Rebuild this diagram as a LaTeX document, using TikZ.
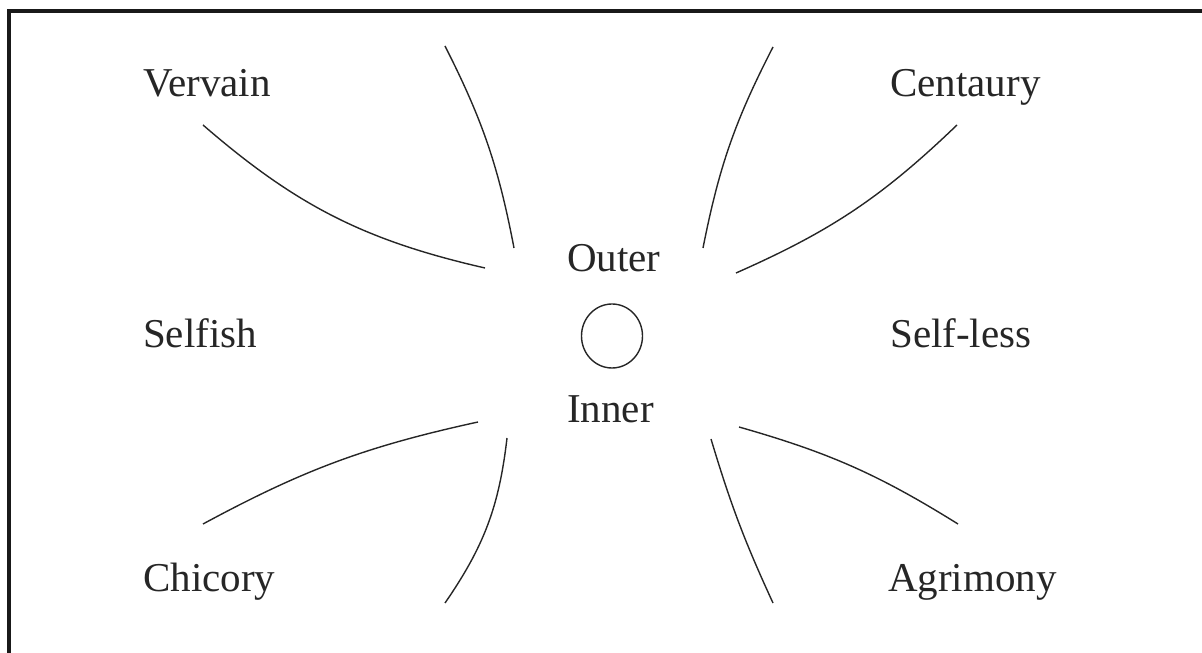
\documentclass[tikz,border=0pt]{standalone}
\usepackage{fontspec}
\setmainfont{Liberation Serif}
\usetikzlibrary{shapes.geometric}
\begin{document}
\begin{tikzpicture}[x=1pt,y=1pt,
  lbl/.style={anchor=base west,inner sep=0pt,font=\fontsize{41}{45}\selectfont,text=black!85},
  arcline/.style={line width=1.4pt,black!85},
  frameline/.style={line width=4pt,black!90,line join=miter}]
\useasboundingbox (0,0) rectangle (1202,653);
% frame (top and left only)
\coordinate (fbl) at (9,0);
\coordinate (ftl) at (9,642);
\coordinate (ftr) at (1202,642);
\draw[frameline] (fbl) -- (ftl) -- (ftr);
% labels
\node[lbl] (vervain) at (143,556) {Vervain};
\node[lbl] (centaury) at (890,556) {Centaury};
\node[lbl] (selfish) at (143,305) {Selfish};
\node[lbl] (selfless) at (890,305) {Self-less};
\node[lbl] (chicory) at (143,61) {Chicory};
\node[lbl] (agrimony) at (888,61) {Agrimony};
\node[lbl] (outer) at (567,381) {Outer};
\node[lbl] (inner) at (567,230) {Inner};
\node[draw,ellipse,minimum width=61pt,minimum height=64pt,inner sep=0pt,arcline] (core) at (612,317) {};
% curve end points
\coordinate (a1) at (445,607); \coordinate (b1) at (514,405);
\coordinate (a2) at (203,528); \coordinate (b2) at (485,385);
\coordinate (a3) at (773,606); \coordinate (b3) at (703,405);
\coordinate (a4) at (957,528); \coordinate (b4) at (736,380);
\coordinate (a5) at (203,129); \coordinate (b5) at (478,231);
\coordinate (a6) at (507,215); \coordinate (b6) at (445,50);
\coordinate (a7) at (711,214); \coordinate (b7) at (773,50);
\coordinate (a8) at (739,226); \coordinate (b8) at (958,129);
\draw[arcline] (a1) to[bend left=8] (b1);
\draw[arcline] (a2) to[bend right=14] (b2);
\draw[arcline] (a3) to[bend right=8] (b3);
\draw[arcline] (a4) to[bend left=10] (b4);
\draw[arcline] (a5) to[bend left=8] (b5);
\draw[arcline] (a6) to[bend left=14] (b6);
\draw[arcline] (a7) to[bend right=4] (b7);
\draw[arcline] (a8) to[bend left=8] (b8);
\end{tikzpicture}
\end{document}
